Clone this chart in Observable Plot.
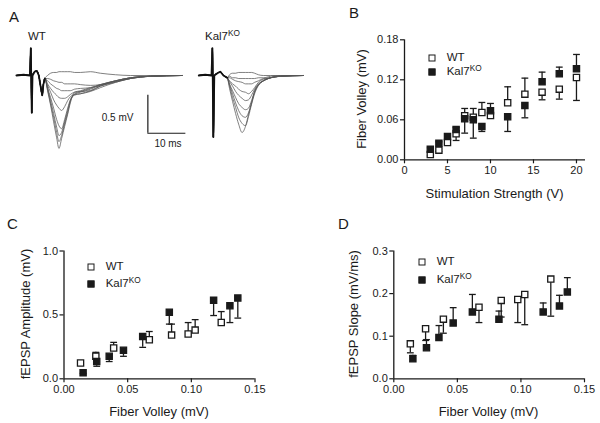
<!DOCTYPE html>
<html><head><meta charset="utf-8">
<script src="https://cdn.jsdelivr.net/npm/d3@7"></script>
<script src="https://cdn.jsdelivr.net/npm/@observablehq/plot@0.6"></script>
<style>
body{margin:0;background:#fff;}
#fig{position:relative;width:600px;height:423px;overflow:hidden;font-family:"Liberation Sans",Arial,sans-serif;color:#1a1a1a;background:#fff}
.abs{position:absolute;white-space:nowrap;line-height:1}
.abs sup{font-size:0.72em;vertical-align:0.5em;line-height:0}
.sq{position:absolute;width:5px;height:5px;border:1.3px solid #1a1a1a;transform:translate(-50%,-50%)}
#fig svg{position:absolute;overflow:visible}
</style>
</head><body><div id="fig"></div>
<script>
// ---------- Panel A: example traces (ms, mV) ----------
const traceGroups = ["WT", "Kal7KO"];
const earlyWT_t = [-3.9,-2.0,-0.35,-0.1,0.15,0.35,0.9,1.5,2.0,2.5,2.9,3.2,3.6];
const earlyWT_v = [0,0.01,0,0.36,-0.49,0,0.05,0.06,0,-0.15,-0.26,-0.12,-0.04];
const traceWT_t = [3.6,4.3,5.1,5.9,6.7,7.3,8.0,8.8,9.6,10.3,11.4,13.0,15.6,18.2,22.2,26.1,31.4,39.7];
const tracesWT = [
  [-0.04,-0.20,-0.39,-0.61,-0.82,-0.96,-0.83,-0.67,-0.51,-0.36,-0.22,-0.20,-0.16,-0.12,-0.07,-0.03,-0.01,0],
  [-0.04,-0.18,-0.37,-0.55,-0.75,-0.87,-0.79,-0.64,-0.49,-0.34,-0.24,-0.21,-0.17,-0.12,-0.07,-0.03,-0.01,0],
  [-0.04,-0.17,-0.33,-0.50,-0.68,-0.79,-0.75,-0.61,-0.46,-0.33,-0.25,-0.22,-0.18,-0.13,-0.07,-0.03,-0.01,0],
  [-0.04,-0.16,-0.29,-0.43,-0.58,-0.66,-0.70,-0.58,-0.43,-0.32,-0.26,-0.24,-0.20,-0.14,-0.08,-0.04,-0.01,0],
  [-0.04,-0.13,-0.22,-0.32,-0.39,-0.43,-0.46,-0.41,-0.33,-0.28,-0.25,-0.24,-0.21,-0.16,-0.09,-0.04,-0.01,0],
  [-0.04,-0.11,-0.17,-0.22,-0.26,-0.29,-0.30,-0.30,-0.28,-0.25,-0.22,-0.21,-0.20,-0.14,-0.09,-0.04,-0.01,0],
  [-0.04,-0.07,-0.11,-0.14,-0.17,-0.18,-0.20,-0.20,-0.20,-0.20,-0.18,-0.17,-0.16,-0.13,-0.08,-0.04,-0.01,0],
  [-0.04,-0.04,-0.05,-0.07,-0.08,-0.09,-0.09,-0.11,-0.11,-0.11,-0.11,-0.12,-0.13,-0.12,-0.07,-0.03,-0.01,0],
  [-0.04,0,0.03,0.04,0.04,0.05,0.05,0.05,0.05,0.05,0.04,0.04,0.05,0.03,0.01,0,0,0]
];
const earlyKO_t = [-3.7,-2.0,-0.35,-0.1,0.15,0.4,1.2,2.0,2.8,3.8];
const earlyKO_v = [0,0.01,0,0.36,-0.81,0,0.03,0.05,0,-0.03];
const traceKO_t = [3.8,4.4,5.2,6.0,6.8,7.7,8.6,9.4,10.2,11.0,12.0,13.3,15.2,17.8,23.9];
const tracesKO = [
  [-0.03,-0.17,-0.34,-0.50,-0.64,-0.75,-0.67,-0.51,-0.36,-0.21,-0.12,-0.07,-0.03,-0.01,0],
  [-0.03,-0.14,-0.29,-0.42,-0.55,-0.63,-0.66,-0.54,-0.38,-0.24,-0.13,-0.07,-0.03,-0.01,0],
  [-0.03,-0.12,-0.24,-0.36,-0.46,-0.53,-0.55,-0.49,-0.36,-0.22,-0.13,-0.07,-0.03,-0.01,0],
  [-0.03,-0.11,-0.20,-0.29,-0.37,-0.42,-0.45,-0.43,-0.33,-0.21,-0.12,-0.07,-0.03,-0.01,0],
  [-0.03,-0.08,-0.14,-0.21,-0.26,-0.30,-0.33,-0.32,-0.26,-0.18,-0.11,-0.07,-0.03,-0.01,0],
  [-0.03,-0.07,-0.11,-0.14,-0.18,-0.21,-0.22,-0.24,-0.21,-0.16,-0.09,-0.05,-0.03,-0.01,0],
  [-0.03,-0.03,-0.05,-0.07,-0.08,-0.09,-0.11,-0.11,-0.11,-0.09,-0.07,-0.04,-0.03,-0.01,0],
  [-0.03,-0.01,-0.03,-0.03,-0.04,-0.04,-0.04,-0.04,-0.04,-0.04,-0.03,-0.03,-0.01,0,0],
  [-0.03,0.01,0.03,0.03,0.04,0.04,0.04,0.04,0.04,0.03,0.01,0,0,0,0]
];
const scaleBar = {ms: 10, mV: 0.5};

// ---------- Panel B: fiber volley vs stimulation ----------
const stimV   = [3,4,5,6,7,8,9,10,12,14,16,18,20];
const fvWT    = [0.008,0.0145,0.026,0.039,0.066,0.064,0.071,0.0665,0.0855,0.0985,0.1015,0.106,0.1235];
const fvWTsem = [0.002,0.002,0.003,0.010,0.011,0.013,0.015,0.004,0.024,0.024,0.0115,0.015,0.0345];
const fvKO    = [0.016,0.025,0.035,0.0455,0.0615,0.060,0.050,0.0735,0.0645,0.0815,0.117,0.129,0.1365];
const fvKOsem = [0.002,0.002,0.003,0.003,0.0215,0.0275,0.0075,0.011,0.022,0.0185,0.0145,0.010,0.0215];

// ---------- Panels C & D: vs fiber volley ----------
const fvMeanWT   = [0.013,0.025,0.039,0.067,0.0845,0.0975,0.103,0.1235];
const fvMeanKO   = [0.015,0.0257,0.0355,0.0467,0.0618,0.0827,0.1175,0.1303,0.1365];
const ampWT      = [0.124,0.176,0.241,0.306,0.342,0.35,0.381,0.44];
const ampWTsem   = [0.005,0.031,0.044,0.064,0.086,0.09,0.082,0.086];
const ampKO      = [0.047,0.135,0.176,0.223,0.331,0.521,0.614,0.572,0.632];
const ampKOsem   = [0.005,0.037,0.041,0.047,0.085,0.093,0.119,0.132,0.157];
const slopeWT    = [0.082,0.1175,0.140,0.168,0.184,0.186,0.198,0.234];
const slopeWTsem = [0.021,0.0275,0.033,0.036,0.039,0.054,0.071,0.087];
const slopeKO    = [0.047,0.073,0.097,0.131,0.157,0.140,0.157,0.171,0.204];
const slopeKOsem = [0.008,0.019,0.028,0.036,0.041,0.019,0.021,0.025,0.0335];

// ticks
const ticksB_x = [0,5,10,15,20], ticksB_y = [0,0.06,0.12,0.18];
const ticksFV = [0,0.05,0.10,0.15];
const ticksC_y = [0,0.5,1.0], ticksD_y = [0,0.1,0.2,0.3];

// ---------------- drawing ----------------
const fig = document.getElementById("fig");
const INK = "#1a1a1a";
const FONT = "'Liberation Sans', Arial, sans-serif";

function label(html, x, y, size, anchor = "middle", rotate = 0) {
  const d = document.createElement("div");
  d.className = "abs"; d.innerHTML = html;
  d.style.fontSize = size + "px"; d.style.left = x + "px"; d.style.top = y + "px";
  const tx = anchor === "start" ? "0" : anchor === "end" ? "-100%" : "-50%";
  d.style.transform = `translate(${tx},-50%)` + (rotate ? ` rotate(${rotate}deg)` : "");
  fig.append(d);
}
function legendSquare(x, y, filled) {
  const d = document.createElement("div");
  d.className = "sq"; d.style.left = x + "px"; d.style.top = y + "px";
  d.style.background = filled ? INK : "#fff";
  fig.append(d);
}
function place(svg, left, top) {
  svg.style.left = left + "px"; svg.style.top = top + "px";
  fig.append(svg);
}
const capSymbol = {draw(ctx, size) { const r = Math.sqrt(size / Math.PI); ctx.moveTo(-r, 0); ctx.lineTo(r, 0); }};

// Panel A
function tracePlot(early_t, early_v, t, traces, withBar, xRange) {
  const rows = [];
  traces.forEach((vals, k) => {
    early_t.forEach((tt, i) => rows.push({t: tt, v: early_v[i], k}));
    t.slice(1).forEach((tt, i) => rows.push({t: tt, v: vals[i + 1], k}));
  });
  const early = early_t.map((tt, i) => ({t: tt, v: early_v[i]}));
  const marks = [
    Plot.line(rows, {x: "t", y: "v", z: "k", stroke: "#555", strokeWidth: 0.75, curve: "monotone-x"}),
    Plot.line(early, {x: "t", y: "v", stroke: "#111", strokeWidth: 1.8})
  ];
  if (withBar) {
    const bt = 30.7, bv = -0.26;
    marks.push(
      Plot.ruleX([bt], {y1: bv, y2: bv - scaleBar.mV, stroke: INK, strokeWidth: 1.2}),
      Plot.ruleY([bv - scaleBar.mV], {x1: bt, x2: bt + scaleBar.ms, stroke: INK, strokeWidth: 1.2}),
      Plot.text([`${scaleBar.mV} mV`], {x: () => bt - 3.8, y: () => bv - 0.29, text: d => d, textAnchor: "end", fontSize: 10}),
      Plot.text([`${scaleBar.ms} ms`], {x: () => bt + 5.3, y: () => bv - scaleBar.mV - 0.14, text: d => d, fontSize: 10})
    );
  }
  return Plot.plot({
    width: xRange[0], height: 115,
    style: {background: "transparent", fontFamily: FONT, color: INK},
    x: {domain: [0, 10], range: [xRange[1], xRange[1] + 38], axis: null},
    y: {domain: [0, -0.5], range: [35, 73], axis: null},
    marks
  });
}
place(tracePlot(earlyWT_t, earlyWT_v, traceWT_t, tracesWT, true, [184, 22.7]), 8, 40);
place(tracePlot(earlyKO_t, earlyKO_v, traceKO_t, tracesKO, false, [115, 22.3]), 190, 40);

// Scatter panels
function series(xs, ys, sems, dirs) {
  return xs.map((x, i) => ({x, y: ys[i], sem: sems[i], dir: dirs[i]}));
}
function scatterPlot(opt) {
  const {width, height, margins, xDomain, yDomain, xTicks, yTicks, xFmt, yFmt, wt, ko} = opt;
  const errMarks = s => [
    Plot.ruleX(s, {x: "x", y1: "y", y2: d => d.y + d.dir * d.sem, stroke: INK, strokeWidth: 1.3}),
    Plot.dot(s, {x: "x", y: d => d.y + d.dir * d.sem, symbol: capSymbol, r: 3.4, fill: "none", stroke: INK, strokeWidth: 1.3})
  ];
  return Plot.plot({
    width, height,
    marginLeft: margins[0], marginRight: margins[1], marginTop: margins[2], marginBottom: margins[3],
    style: {background: "transparent", fontFamily: FONT, fontSize: "11px", color: INK},
    x: {domain: xDomain}, y: {domain: yDomain},
    marks: [
      Plot.axisX({ticks: xTicks, tickFormat: xFmt, tickSize: 4, tickPadding: 2, strokeWidth: 1.2, fontSize: 11, label: null}),
      Plot.axisY({ticks: yTicks, tickFormat: yFmt, tickSize: 4, tickPadding: 2, strokeWidth: 1.2, fontSize: 11, label: null}),
      Plot.ruleX([xDomain[0]], {stroke: INK, strokeWidth: 1.3}),
      Plot.ruleY([yDomain[0]], {stroke: INK, strokeWidth: 1.3}),
      ...errMarks(wt), ...errMarks(ko),
      Plot.dot(wt, {x: "x", y: "y", symbol: "square", r: 3.5, fill: "white", stroke: INK, strokeWidth: 1.3}),
      Plot.dot(ko, {x: "x", y: "y", symbol: "square", r: 3.5, fill: INK, stroke: INK, strokeWidth: 1.3})
    ]
  });
}

// B: the higher series gets its error bar upward
const dirB_WT = fvWT.map((v, i) => v >= fvKO[i] ? 1 : -1);
const dirB_KO = dirB_WT.map(d => -d);
place(scatterPlot({
  width: 260, height: 185, margins: [64, 15, 19.3, 45.7],
  xDomain: [0, 21.05], yDomain: [0, 0.18], xTicks: ticksB_x, yTicks: ticksB_y,
  xFmt: d3.format("d"), yFmt: d3.format(".2f"),
  wt: series(stimV, fvWT, fvWTsem, dirB_WT), ko: series(stimV, fvKO, fvKOsem, dirB_KO)
}), 340, 20);

// C: WT bars up, KO bars down
place(scatterPlot({
  width: 300, height: 223, margins: [63.5, 45.5, 50.5, 44.7],
  xDomain: [0, 0.15], yDomain: [0, 1.0], xTicks: ticksFV, yTicks: ticksC_y,
  xFmt: d3.format(".2f"), yFmt: d3.format(".1f"),
  wt: series(fvMeanWT, ampWT, ampWTsem, fvMeanWT.map(() => 1)),
  ko: series(fvMeanKO, ampKO, ampKOsem, fvMeanKO.map(() => -1))
}), 0, 200);

// D: WT bars down, KO bars up
place(scatterPlot({
  width: 300, height: 223, margins: [93.3, 16, 50.5, 44.7],
  xDomain: [0, 0.15], yDomain: [0, 0.3], xTicks: ticksFV, yTicks: ticksD_y,
  xFmt: d3.format(".2f"), yFmt: d3.format(".1f"),
  wt: series(fvMeanWT, slopeWT, slopeWTsem, fvMeanWT.map(() => -1)),
  ko: series(fvMeanKO, slopeKO, slopeKOsem, fvMeanKO.map(() => 1))
}), 300, 200);

// ---------- text ----------
label("A", 9, 16, 15, "start");
label("B", 349, 12, 15, "start");
label("C", 7, 223, 15, "start");
label("D", 338, 223, 15, "start");

label(traceGroups[0], 28, 37, 11.5, "start");
label("Kal7<sup>KO</sup>", 205, 37, 11.5, "start");

label("Fiber Volley (mV)", 361, 99, 13, "middle", -90);
label("Stimulation Strength (V)", 494.5, 192.5, 13);
label("fEPSP Amplitude (mV)", 25, 314, 13, "middle", -90);
label("Fiber Volley (mV)", 159, 411, 13);
label("fEPSP Slope (mV/ms)", 353, 314, 13, "middle", -90);
label("Fiber Volley (mV)", 488.5, 411, 13);

// legends
function legend(x, y, gap) {
  legendSquare(x, y, false); label("WT", x + 15, y, 11.5, "start");
  legendSquare(x, y + gap, true); label("Kal7<sup>KO</sup>", x + 15, y + gap, 11.5, "start");
}
legend(431.7, 57.7, 14.6);
legend(90.7, 266.7, 17.6);
legend(421.7, 261.7, 18.3);
</script>
</body></html>
